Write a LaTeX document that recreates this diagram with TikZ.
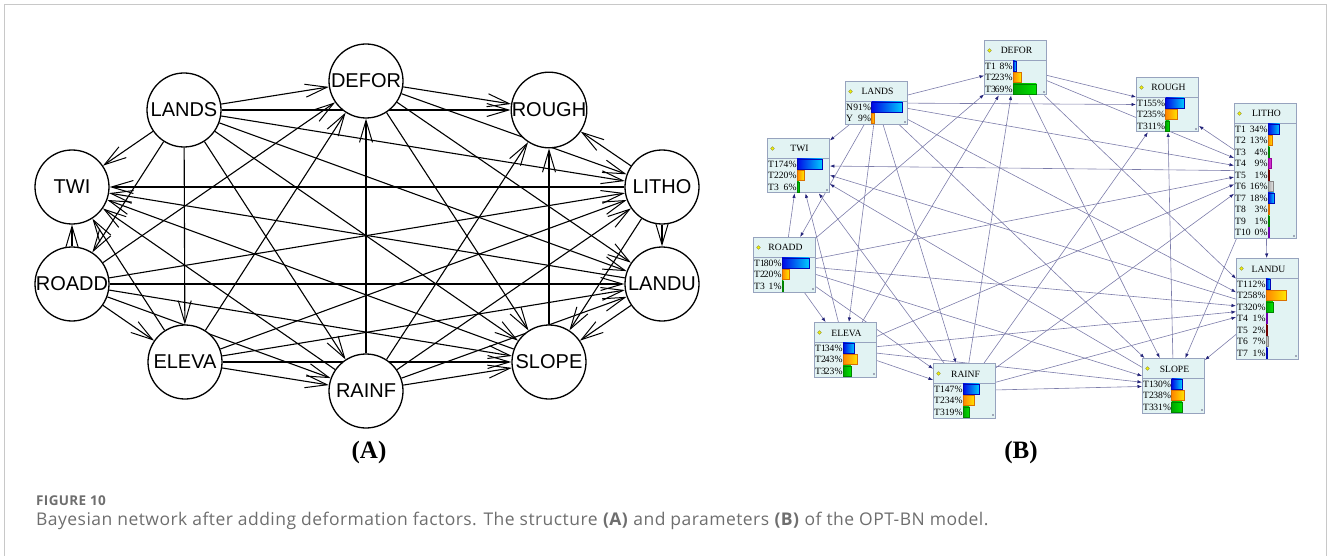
\documentclass[tikz,border=0pt]{standalone}
\usepackage{fontspec}
\setmainfont{Liberation Serif}
\newfontfamily\circfont{Liberation Sans}
\newfontfamily\capfont[LetterSpace=2.6]{Open Sans}
\usetikzlibrary{arrows.meta,backgrounds}

\definecolor{framegray}{HTML}{C8C8C8}
\definecolor{capgray}{HTML}{6E6E6E}
\definecolor{boxfill}{HTML}{E2F3F3}
\definecolor{boxline}{HTML}{97A3BE}
\definecolor{linkcol}{HTML}{7C7CAA}
\definecolor{tipnavy}{HTML}{24247A}
\definecolor{dotyellow}{HTML}{F4F400}
\definecolor{dotedge}{HTML}{8C8C40}
\definecolor{gripgray}{HTML}{A0A8B8}
\definecolor{bblueL}{HTML}{0008E6}
\definecolor{bblueR}{HTML}{00CCFF}
\definecolor{borangeL}{HTML}{FF8400}
\definecolor{borangeR}{HTML}{FFE600}
\definecolor{bgreenL}{HTML}{00A400}
\definecolor{bgreenR}{HTML}{00E400}
\definecolor{bmag}{HTML}{C000C0}
\definecolor{bdred}{HTML}{700000}
\definecolor{bgrayL}{HTML}{A8A8A8}
\definecolor{bgrayR}{HTML}{E8E8E8}
\definecolor{bpurp}{HTML}{7000B0}

% one Netica-style node box: name, x, y (top left), number of rows, title
\newcommand\bnbox[5]{%
  \node[bnframe, minimum height={20pt+#4*11.5pt}] (#1) at (#2,#3) {};
  \draw[boxline, line width=0.8pt] (#2,#3+20) -- (#2+62,#3+20);
  \filldraw[fill=dotyellow, draw=dotedge, line width=0.4pt] (#2+5.5,#3+10.5) circle (1.9pt);
  \node[bntitle] (#1-t) at (#2+32.5,#3+14) {#5};
  \fill[gripgray] (#2+58.6,#3+16.6+#4*11.5) rectangle (#2+60.6,#3+18.6+#4*11.5);
}
% one state row: box, x, y, row index, state, percent, bar column, bar style
\newcommand\bnrow[8]{%
  \node[bnrowtext, anchor=base west] (#1-l#4) at (#2+1, #3+17.6+#4*11.5) {#5};
  \node[bnrowtext, anchor=base east] (#1-p#4) at (#2+#7-0.3, #3+17.6+#4*11.5) {#6\%};
  \shadedraw[#8, line width=0.4pt] (#2+#7, #3+9.25+#4*11.5) rectangle ++({max(1.3,#6*0.34)}, 10);
}

\tikzset{
  acirc/.style={circle, draw, line width=1.3pt, fill=white, minimum size=74pt,
    inner sep=0pt, font={\circfont\fontsize{20}{24}\selectfont}},
  aedge/.style={line width=1.1pt, -{Straight Barb[length=22pt,width=13pt,line width=1pt]}},
  bnframe/.style={draw=boxline, fill=boxfill, line width=0.9pt, minimum width=62pt,
    inner sep=0pt, anchor=north west},
  bntitle/.style={anchor=base, inner sep=0pt, font=\fontsize{9.6}{11}\selectfont},
  bnrowtext/.style={inner sep=0pt, font=\fontsize{9.6}{11}\selectfont},
  bedge/.style={draw=linkcol, line width=0.6pt, -{Latex[length=4.5pt,width=3.4pt,color=tipnavy]}},
  cblue/.style={left color=bblueL, right color=bblueR, draw=bblueL!80!black},
  corange/.style={left color=borangeL, right color=borangeR, draw=borangeL!85!black},
  cgreen/.style={left color=bgreenL, right color=bgreenR, draw=bgreenL!80!black},
  cmag/.style={left color=bmag, right color=bmag!70!white, draw=bmag!80!black},
  cdred/.style={left color=bdred, right color=bdred!80!white, draw=bdred},
  cgray/.style={left color=bgrayL, right color=bgrayR, draw=bgrayL!80!black},
  cpurp/.style={left color=bpurp, right color=bpurp!70!white, draw=bpurp},
  panellabel/.style={anchor=base, inner sep=0pt, font=\bfseries\fontsize{25}{30}\selectfont},
}

\begin{document}
\begin{tikzpicture}[x=1pt,y=-1pt]
\useasboundingbox (0,0) rectangle (1330,556);
\draw[framegray, line width=1.5pt] (4.5,557) -- (4.5,4.5) -- (1326.5,4.5) -- (1326.5,557);

% ---------- (A) network structure ----------
\node[acirc] (aLA) at (184,110) {LANDS};
\node[acirc] (aDE) at (366,81)  {DEFOR};
\node[acirc] (aRO) at (549,110) {ROUGH};
\node[acirc] (aLI) at (662,187) {LITHO};
\node[acirc] (aLU) at (662,284) {LANDU};
\node[acirc] (aSL) at (549,362) {SLOPE};
\node[acirc] (aRA) at (366,391) {RAINF};
\node[acirc] (aEL) at (185,362) {ELEVA};
\node[acirc] (aRD) at (72,284)  {ROADD};
\node[acirc] (aTW) at (72,187)  {TWI};

% ---------- (B) network parameters ----------
\bnbox{bLA}{845}{81}{2}{LANDS}
\bnrow{bLA}{845}{81}{1}{N}{91}{26.5}{cblue}
\bnrow{bLA}{845}{81}{2}{Y}{9}{26.5}{corange}

\bnbox{bDE}{984}{40}{3}{DEFOR}
\bnrow{bDE}{984}{40}{1}{T1}{8}{29}{cblue}
\bnrow{bDE}{984}{40}{2}{T2}{23}{29}{corange}
\bnrow{bDE}{984}{40}{3}{T3}{69}{29}{cgreen}

\bnbox{bRO}{1136}{77}{3}{ROUGH}
\bnrow{bRO}{1136}{77}{1}{T1}{55}{29.5}{cblue}
\bnrow{bRO}{1136}{77}{2}{T2}{35}{29.5}{corange}
\bnrow{bRO}{1136}{77}{3}{T3}{11}{29.5}{cgreen}

\bnbox{bLI}{1234}{103}{10}{LITHO}
\bnrow{bLI}{1234}{103}{1}{T1}{34}{34}{cblue}
\bnrow{bLI}{1234}{103}{2}{T2}{13}{34}{corange}
\bnrow{bLI}{1234}{103}{3}{T3}{4}{34}{cgreen}
\bnrow{bLI}{1234}{103}{4}{T4}{9}{34}{cmag}
\bnrow{bLI}{1234}{103}{5}{T5}{1}{34}{cdred}
\bnrow{bLI}{1234}{103}{6}{T6}{16}{34}{cgray}
\bnrow{bLI}{1234}{103}{7}{T7}{18}{34}{cblue}
\bnrow{bLI}{1234}{103}{8}{T8}{3}{34}{corange}
\bnrow{bLI}{1234}{103}{9}{T9}{1}{34}{cgreen}
\bnrow{bLI}{1234}{103}{10}{T10}{0}{34}{cpurp}

\bnbox{bLU}{1236}{258}{7}{LANDU}
\bnrow{bLU}{1236}{258}{1}{T1}{12}{30}{cblue}
\bnrow{bLU}{1236}{258}{2}{T2}{58}{30}{corange}
\bnrow{bLU}{1236}{258}{3}{T3}{20}{30}{cgreen}
\bnrow{bLU}{1236}{258}{4}{T4}{1}{30}{cpurp}
\bnrow{bLU}{1236}{258}{5}{T5}{2}{30}{cdred}
\bnrow{bLU}{1236}{258}{6}{T6}{7}{30}{cgray}
\bnrow{bLU}{1236}{258}{7}{T7}{1}{30}{cblue}

\bnbox{bSL}{1142}{358}{3}{SLOPE}
\bnrow{bSL}{1142}{358}{1}{T1}{30}{29.5}{cblue}
\bnrow{bSL}{1142}{358}{2}{T2}{38}{29.5}{corange}
\bnrow{bSL}{1142}{358}{3}{T3}{31}{29.5}{cgreen}

\bnbox{bRA}{933}{363}{3}{RAINF}
\bnrow{bRA}{933}{363}{1}{T1}{47}{30}{cblue}
\bnrow{bRA}{933}{363}{2}{T2}{34}{30}{corange}
\bnrow{bRA}{933}{363}{3}{T3}{19}{30}{cgreen}

\bnbox{bEL}{814}{322}{3}{ELEVA}
\bnrow{bEL}{814}{322}{1}{T1}{34}{29}{cblue}
\bnrow{bEL}{814}{322}{2}{T2}{43}{29}{corange}
\bnrow{bEL}{814}{322}{3}{T3}{23}{29}{cgreen}

\bnbox{bRD}{753}{237}{3}{ROADD}
\bnrow{bRD}{753}{237}{1}{T1}{80}{29}{cblue}
\bnrow{bRD}{753}{237}{2}{T2}{20}{29}{corange}
\bnrow{bRD}{753}{237}{3}{T3}{1}{29}{cgreen}

\bnbox{bTW}{767}{138}{3}{TWI}
\bnrow{bTW}{767}{138}{1}{T1}{74}{30}{cblue}
\bnrow{bTW}{767}{138}{2}{T2}{20}{30}{corange}
\bnrow{bTW}{767}{138}{3}{T3}{6}{30}{cgreen}

% ---------- links (drawn beneath the nodes) ----------
\begin{pgfonlayer}{background}
\foreach \s/\t in {LA/DE,LA/RO,LA/LI,LA/LU,LA/SL,LA/RA,LA/EL,LA/RD,LA/TW,
                   RD/TW,RD/DE,RD/LI,RD/LU,RD/SL,RD/RA,RD/EL,
                   EL/TW,EL/DE,EL/LI,EL/LU,EL/SL,EL/RA,
                   RA/TW,RA/DE,RA/RO,RA/LI,RA/LU,RA/SL,
                   DE/RO,DE/LI,DE/LU,DE/SL,
                   LI/TW,LI/LU,LI/RO,LI/SL,
                   LU/TW,LU/SL,
                   SL/TW,SL/RO}{
  \draw[aedge] (a\s) -- (a\t);
  \draw[bedge] (b\s) -- (b\t);
}
\end{pgfonlayer}

% ---------- panel labels and caption ----------
\node[panellabel] (labA) at (369,458) {(A)};
\node[panellabel] (labB) at (1021,458) {(B)};

\node[anchor=base west, inner sep=0pt, text=capgray,
      font={\capfont\bfseries\fontsize{13.5}{15}\selectfont}] (figno) at (36,505) {FIGURE 10};
\node[anchor=base west, inner sep=0pt, text=capgray,
      font={\capfont\fontsize{17.5}{20}\selectfont}] (figcap) at (36,525.5)
  {Bayesian network after adding deformation factors. The structure \textbf{(A)} and parameters \textbf{(B)} of the OPT-BN model.};
\end{tikzpicture}
\end{document}
